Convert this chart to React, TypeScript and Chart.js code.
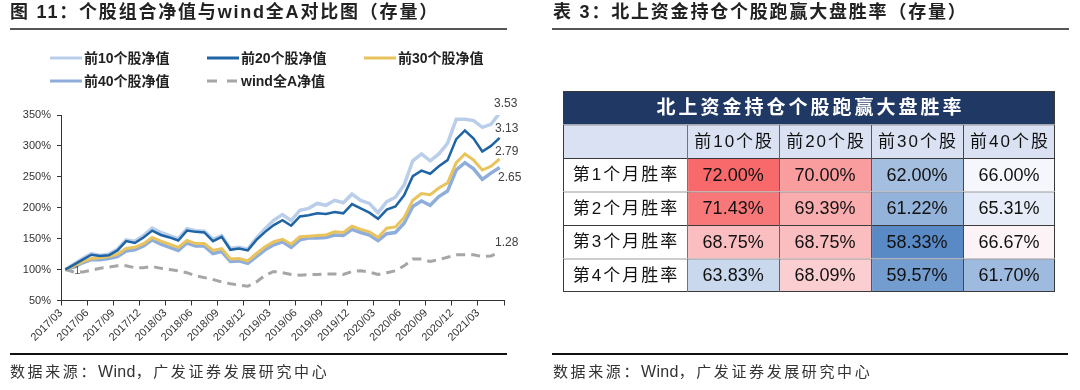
import React, { useEffect, useRef } from 'react';
import { Chart, registerables } from 'chart.js';

Chart.register(...registerables);

const FONT = '"Liberation Sans", "Noto Sans CJK SC", sans-serif';

// ---------- Line chart data ----------
const months = [
  '2017/03', '2017/04', '2017/05', '2017/06', '2017/07', '2017/08', '2017/09', '2017/10', '2017/11', '2017/12',
  '2018/01', '2018/02', '2018/03', '2018/04', '2018/05', '2018/06', '2018/07', '2018/08', '2018/09', '2018/10', '2018/11', '2018/12',
  '2019/01', '2019/02', '2019/03', '2019/04', '2019/05', '2019/06', '2019/07', '2019/08', '2019/09', '2019/10', '2019/11', '2019/12',
  '2020/01', '2020/02', '2020/03', '2020/04', '2020/05', '2020/06', '2020/07', '2020/08', '2020/09', '2020/10', '2020/11', '2020/12',
  '2021/01', '2021/02', '2021/03', '2021/04', '2021/05',
];

const seriesNames = ['前10个股净值', '前20个股净值', '前30个股净值', '前40个股净值', 'wind全A净值'];

const top10 = [
  100, 109, 118, 126, 123, 125, 133, 148, 146, 155,
  167, 160, 155, 150, 166, 163, 162, 149, 155, 134, 136, 133,
  151, 166, 180, 189, 179, 196, 199, 207, 204, 212, 208, 222,
  212, 207, 192, 210, 217, 237, 276, 287, 276, 287, 304, 343,
  343, 341, 330, 335, 353,
];
const top20 = [
  100, 108, 116, 124, 122, 123, 131, 146, 143, 152,
  163, 156, 152, 147, 163, 161, 160, 146, 153, 132, 134, 131,
  148, 161, 172, 180, 171, 186, 188, 191, 190, 193, 191, 206,
  199, 192, 182, 197, 202, 220, 251, 260, 255, 267, 277, 311,
  325, 312, 291, 300, 313,
];
const top30 = [
  100, 106, 113, 118, 119, 121, 125, 134, 136, 142,
  152, 146, 141, 136, 147, 142, 142, 131, 134, 117, 118, 114,
  126, 137, 145, 149, 141, 153, 154, 155, 156, 161, 160, 170,
  165, 161, 152, 167, 169, 184, 212, 223, 221, 232, 240, 273,
  287, 277, 261, 267, 279,
];
const top40 = [
  100, 104, 111, 116, 116, 118, 121, 130, 132, 138,
  148, 141, 136, 131, 143, 138, 138, 126, 129, 113, 114, 110,
  121, 132, 140, 145, 136, 148, 151, 151, 152, 156, 155, 165,
  160, 156, 147, 158, 160, 175, 202, 211, 204, 218, 227, 261,
  273, 263, 246, 256, 265,
];
const windA = [
  100, 96, 96, 99, 102, 104, 106, 106, 103, 103,
  105, 102, 100, 98, 95, 90, 87, 84, 80, 77, 75, 73,
  80, 91, 97, 95, 92, 91, 92, 92, 93, 93, 92, 97,
  98, 96, 92, 95, 98, 106, 117, 117, 113, 116, 120, 124,
  124, 124, 121, 122, 128,
];

const allSeries = [top10, top20, top30, top40, windA];

const lineStyles = [
  { color: '#BACEEA', width: 3.5, dash: [] as number[], legendDash: [] as number[], order: 3, ldx: 6, ldy: -9 },
  { color: '#1F64A5', width: 2.5, dash: [], legendDash: [], order: 0, ldx: 7, ldy: -9 },
  { color: '#E9C35C', width: 3, dash: [], legendDash: [], order: 1, ldx: 7, ldy: -7 },
  { color: '#8EADDB', width: 3.5, dash: [], legendDash: [], order: 2, ldx: 10, ldy: 10 },
  { color: '#A6A6A6', width: 3, dash: [9, 6], legendDash: [10, 10], order: 4, ldx: 7, ldy: -10 },
];

// ---------- Table data ----------
const tableTitle = '北上资金持仓个股跑赢大盘胜率';
const colHeaders = ['前10个股', '前20个股', '前30个股', '前40个股'];
const rowHeaders = ['第1个月胜率', '第2个月胜率', '第3个月胜率', '第4个月胜率'];
const winTop10 = [72.0, 71.43, 68.75, 63.83];
const winTop20 = [70.0, 69.39, 68.75, 68.09];
const winTop30 = [62.0, 61.22, 58.33, 59.57];
const winTop40 = [66.0, 65.31, 66.67, 61.7];
const winCols = [winTop10, winTop20, winTop30, winTop40];

const LOW = [90, 138, 198];
const MID = [252, 252, 255];
const HIGH = [248, 105, 107];
function blend(a: number[], b: number[], t: number) {
  return `rgb(${a.map((v, i) => Math.round(v + (b[i] - v) * t)).join(',')})`;
}
function heat(v: number, all: number[]) {
  const s = [...all].sort((a, b) => a - b);
  const n = s.length;
  const mid = n % 2 ? s[(n - 1) / 2] : (s[n / 2 - 1] + s[n / 2]) / 2;
  const mn = s[0];
  const mx = s[n - 1];
  if (v <= mid) return blend(MID, LOW, (mid - v) / (mid - mn));
  return blend(MID, HIGH, (v - mid) / (mx - mid));
}

const legendPlugin = {
  id: 'gridLegend',
  afterDraw(chart: any) {
    const ctx = chart.ctx as CanvasRenderingContext2D;
    ctx.save();
    chart.data.datasets.forEach((ds: any, i: number) => {
      const st = lineStyles[i];
      const col = i % 3;
      const row = Math.floor(i / 3);
      const x = 50 + col * 157;
      const y = 58 + row * 23;
      ctx.beginPath();
      ctx.strokeStyle = st.color;
      ctx.lineWidth = 3;
      ctx.setLineDash(st.legendDash);
      ctx.moveTo(x, y);
      ctx.lineTo(x + 32, y);
      ctx.stroke();
      ctx.setLineDash([]);
      ctx.font = `bold 14px ${FONT}`;
      ctx.fillStyle = '#222';
      ctx.textAlign = 'left';
      ctx.textBaseline = 'middle';
      ctx.fillText(ds.label, x + 34, y + 1);
    });
    ctx.restore();
  },
};

const endLabelPlugin = {
  id: 'endLabels',
  afterDatasetsDraw(chart: any) {
    const ctx = chart.ctx as CanvasRenderingContext2D;
    ctx.save();
    ctx.font = `12px ${FONT}`;
    ctx.fillStyle = '#404040';
    ctx.textBaseline = 'middle';
    ctx.textAlign = 'center';
    chart.data.datasets.forEach((ds: any, i: number) => {
      const meta = chart.getDatasetMeta(i);
      const last = meta.data[meta.data.length - 1];
      const v = allSeries[i][allSeries[i].length - 1];
      const st = lineStyles[i];
      ctx.fillText((v / 100).toFixed(2), last.x + st.ldx, last.y + st.ldy);
    });
    // start label
    const m = chart.getDatasetMeta(4);
    const first = m.data[0];
    ctx.font = `11px ${FONT}`;
    ctx.fillStyle = '#595959';
    ctx.fillText(String(windA[0] / 100), first.x + 12, first.y + 1);
    ctx.restore();
  },
};

const tableTextPlugin = {
  id: 'tableText',
  afterDatasetsDraw(chart: any) {
    const ctx = chart.ctx as CanvasRenderingContext2D;
    ctx.save();
    ctx.textAlign = 'center';
    ctx.textBaseline = 'middle';
    chart.data.datasets.forEach((ds: any, i: number) => {
      const meta = chart.getDatasetMeta(i);
      meta.data.forEach((el: any, j: number) => {
        if (ds.data[j] == null) return;
        const { x, y, base } = el.getProps(['x', 'y', 'base'], true);
        const cx = (x + base) / 2;
        const text = ds.texts[j];
        if (!text) return;
        (ctx as any).letterSpacing = '0px';
        if (j === 0) {
          ctx.font = `bold 19px ${FONT}`;
          ctx.fillStyle = '#ffffff';
          (ctx as any).letterSpacing = '3px';
        } else if (j === 1 || i === 1) {
          ctx.font = `17px ${FONT}`;
          ctx.fillStyle = '#111';
          (ctx as any).letterSpacing = '2px';
        } else {
          ctx.font = `18px ${FONT}`;
          ctx.fillStyle = '#111';
        }
        const ls = parseFloat((ctx as any).letterSpacing || '0') || 0;
        ctx.fillText(text, cx + ls / 2, y + 1);
      });
    });
    ctx.restore();
  },
};

export default function App() {
  const lineRef = useRef<HTMLCanvasElement>(null);
  const tableRef = useRef<HTMLCanvasElement>(null);

  useEffect(() => {
    Chart.defaults.font.family = FONT;
    const datasets = allSeries.map((vals, i) => ({
      label: seriesNames[i],
      data: vals.map((v, k) => ({ x: k + 0.5, y: v })),
      borderColor: lineStyles[i].color,
      backgroundColor: lineStyles[i].color,
      borderWidth: lineStyles[i].width,
      borderDash: lineStyles[i].dash,
      order: lineStyles[i].order,
      pointRadius: 0,
      tension: 0,
      fill: false,
    }));

    const lc = new Chart(lineRef.current!, {
      type: 'line',
      data: { datasets },
      plugins: [legendPlugin, endLabelPlugin],
      options: {
        animation: false,
        responsive: false,
        maintainAspectRatio: false,
        events: [],
        layout: { padding: { left: 10, right: 36, top: 115, bottom: 39.5 } },
        plugins: { legend: { display: false }, tooltip: { enabled: false } },
        scales: {
          x: {
            type: 'linear',
            min: 0,
            max: 51,
            afterFit: (s: any) => { s.height = 50; },
            grid: { drawOnChartArea: false, tickLength: 5, tickColor: '#333' },
            border: { color: '#333', width: 1 },
            ticks: {
              stepSize: 3,
              autoSkip: false,
              maxRotation: 45,
              minRotation: 45,
              padding: 1,
              color: '#333',
              font: { size: 11 },
              callback: (v: any) => months[Math.round(Number(v))] ?? '',
            },
          },
          y: {
            min: 50,
            max: 350,
            afterFit: (s: any) => { s.width = 51; },
            grid: { drawOnChartArea: false, tickLength: 4, tickColor: '#333' },
            border: { color: '#333', width: 1 },
            ticks: {
              stepSize: 50,
              padding: 6,
              color: '#333',
              font: { size: 11 },
              callback: (v: any) => `${v}%`,
            },
          },
        },
      } as any,
    });

    const headBg = '#D9E1F2';
    const all = winCols.flat();
    const tDatasets: any[] = [];
    tDatasets.push({
      data: [[-1.35, 4], null, null, null, null, null],
      backgroundColor: '#203864',
      texts: [tableTitle],
    });
    tDatasets.push({
      data: [null, [-1.35, 0], [-1.35, 0], [-1.35, 0], [-1.35, 0], [-1.35, 0]],
      backgroundColor: [headBg, headBg, '#fff', '#fff', '#fff', '#fff'],
      texts: ['', '', ...rowHeaders],
    });
    winCols.forEach((col, c) => {
      tDatasets.push({
        data: [null, [c, c + 1], [c, c + 1], [c, c + 1], [c, c + 1], [c, c + 1]],
        backgroundColor: [headBg, headBg, ...col.map((v) => heat(v, all))],
        texts: ['', colHeaders[c], ...col.map((v) => `${v.toFixed(2)}%`)],
      });
    });

    const tc = new Chart(tableRef.current!, {
      type: 'bar',
      data: { labels: ['title', 'head', ...rowHeaders], datasets: tDatasets },
      plugins: [tableTextPlugin],
      options: {
        animation: false,
        responsive: false,
        maintainAspectRatio: false,
        events: [],
        indexAxis: 'y',
        layout: { padding: 0 },
        plugins: { legend: { display: false }, tooltip: { enabled: false } },
        datasets: {
          bar: {
            barPercentage: 1,
            categoryPercentage: 1,
            grouped: false,
            borderSkipped: false,
            inflateAmount: 0,
            borderColor: '#3a3a3a',
            borderWidth: (ctx: any) => ({
              top: 1,
              left: 1,
              right: ctx.datasetIndex === 0 || ctx.datasetIndex === 5 ? 1 : 0,
              bottom: ctx.dataIndex === 5 ? 1 : 0,
            }),
          },
        },
        scales: {
          x: { type: 'linear', min: -1.35, max: 4, display: false },
          y: { type: 'category', display: false, offset: true },
        },
      } as any,
    });

    return () => {
      lc.destroy();
      tc.destroy();
    };
  }, []);

  const titleStyle: React.CSSProperties = {
    position: 'absolute',
    top: 0,
    fontFamily: FONT,
    fontWeight: 'bold',
    fontSize: 18,
    letterSpacing: '1.8px',
    lineHeight: '25px',
    color: '#222',
    whiteSpace: 'nowrap',
  };
  const footStyle: React.CSSProperties = {
    position: 'absolute',
    top: 362,
    fontFamily: FONT,
    fontSize: 15,
    letterSpacing: '2.6px',
    lineHeight: '20px',
    color: '#333',
    whiteSpace: 'nowrap',
  };
  const rule = (left: number, top: number, width: number, color: string, h = 2): React.CSSProperties => ({
    position: 'absolute', left, top, width, height: h, background: color,
  });
  const footer = (
    <>
      数据来源：<span style={{ letterSpacing: '0.3px', fontSize: 16 }}>Wind</span>，广发证券发展研究中心
    </>
  );

  return (
    <div style={{ position: 'absolute', left: 0, top: 0, width: 1080, height: 390, background: '#fff', overflow: 'hidden' }}>
      <canvas ref={lineRef} width={540} height={390} style={{ position: 'absolute', left: 0, top: 0, width: 540, height: 390 }} />
      <canvas ref={tableRef} width={492} height={201} style={{ position: 'absolute', left: 563, top: 91, width: 492, height: 201 }} />
      <div style={{ ...titleStyle, left: 10 }}>图 11：个股组合净值与wind全A对比图（存量）</div>
      <div style={{ ...titleStyle, left: 553 }}>表 3：北上资金持仓个股跑赢大盘胜率（存量）</div>
      <div style={rule(10, 28, 497, '#555')} />
      <div style={rule(552, 28, 517, '#555')} />
      <div style={rule(10, 353, 497, '#111')} />
      <div style={rule(552, 353, 516, '#111')} />
      <div style={{ ...footStyle, left: 10 }}>{footer}</div>
      <div style={{ ...footStyle, left: 553 }}>{footer}</div>
    </div>
  );
}
